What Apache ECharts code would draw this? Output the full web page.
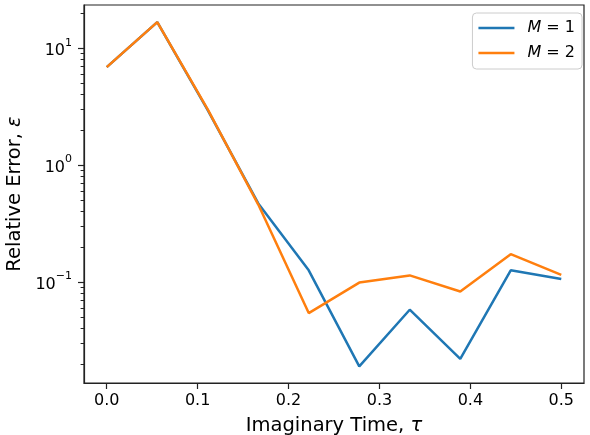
<!DOCTYPE html>
<html>
<head>
<meta charset="utf-8">
<script src="https://cdn.jsdelivr.net/npm/echarts@6/dist/echarts.min.js"></script>
<style>html,body{margin:0;padding:0;background:#fff;}#c{width:590px;height:435px;}</style>
</head>
<body>
<div id="c"></div>
<script>
// Data
var tau = [0, 0.0556, 0.1111, 0.1667, 0.2222, 0.2778, 0.3333, 0.3889, 0.4444, 0.5];
var errM1 = [6.88, 16.7, 2.95, 0.47, 0.126, 0.019, 0.058, 0.022, 0.126, 0.106];
var errM2 = [6.88, 16.7, 3.0, 0.46, 0.0543, 0.099, 0.114, 0.083, 0.173, 0.115];
var xTicks = [0, 0.1, 0.2, 0.3, 0.4, 0.5];
var yMajorTicks = [0.1, 1, 10];
var yMinorTicks = [0.02, 0.03, 0.04, 0.05, 0.06, 0.07, 0.08, 0.09,
                   0.2, 0.3, 0.4, 0.5, 0.6, 0.7, 0.8, 0.9,
                   2, 3, 4, 5, 6, 7, 8, 9, 20];
var seriesNames = ['M1', 'M2'];
var legendLabels = {M1: '{i|M} = 1', M2: '{i|M} = 2'};

function pairs(xs, ys) { return xs.map(function (x, i) { return [x, ys[i]]; }); }

var font = 'DejaVu Sans';
var chart = echarts.init(document.getElementById('c'), null, {renderer: 'canvas'});
var axisLineStyle = {color: '#222', width: 1.2};

chart.setOption({
  animation: false,
  backgroundColor: '#fff',
  grid: {left: 84, top: 5, right: 6, bottom: 52, show: true, containLabel: false,
         outerBoundsMode: 'none',
         borderColor: '#222', borderWidth: 1.2, backgroundColor: 'transparent'},
  legend: {
    data: seriesNames,
    orient: 'vertical',
    right: 8, top: 13,
    icon: 'rect',
    itemWidth: 36, itemHeight: 2.5, itemGap: 7,
    padding: [6, 7, 7, 6],
    backgroundColor: 'rgba(255,255,255,0.8)',
    borderColor: '#cccccc', borderWidth: 1, borderRadius: 4,
    formatter: function (n) { return legendLabels[n]; },
    textStyle: {
      fontFamily: font, fontSize: 16, color: '#000', padding: [0, 0, 0, 8], lineHeight: 18,
      rich: {i: {fontFamily: font, fontSize: 16, fontStyle: 'italic', color: '#000', lineHeight: 18}}
    }
  },
  xAxis: {
    type: 'value', min: -0.025, max: 0.525,
    name: 'Imaginary Time, {i|τ}',
    nameLocation: 'middle', nameGap: 33,
    nameTextStyle: {fontFamily: font, fontSize: 19.5, color: '#000',
      rich: {i: {fontFamily: font, fontSize: 19.5, fontStyle: 'italic', color: '#000'}}},
    axisLine: {show: true, onZero: false, lineStyle: axisLineStyle},
    axisTick: {show: true, length: 6, lineStyle: {color: '#222', width: 1.2}, customValues: xTicks},
    axisLabel: {show: true, customValues: xTicks, margin: 10, fontFamily: font, fontSize: 16, color: '#000',
      formatter: function (v) { return v.toFixed(1); }},
    splitLine: {show: false}
  },
  yAxis: [{
    type: 'log', logBase: 10, min: 0.0137, max: 23.4,
    name: 'Relative Error, {i|ε}',
    nameLocation: 'middle', nameGap: 55,
    nameTextStyle: {fontFamily: font, fontSize: 19.5, color: '#000',
      rich: {i: {fontFamily: font, fontSize: 19.5, fontStyle: 'italic', color: '#000'}}},
    axisLine: {show: true, onZero: false, lineStyle: axisLineStyle},
    axisTick: {show: true, length: 6, lineStyle: {color: '#222', width: 1.2}, customValues: yMajorTicks},
    axisLabel: {show: true, customValues: yMajorTicks, margin: 12, fontFamily: font, fontSize: 16, color: '#000',
      formatter: function (v) {
        var e = Math.round(Math.log10(v));
        return '{b|10}{s|' + (e < 0 ? '\u2212' + (-e) : e) + '}';
      },
      rich: {
        b: {fontFamily: font, fontSize: 16, color: '#000', lineHeight: 22, verticalAlign: 'bottom'},
        s: {fontFamily: font, fontSize: 11, color: '#000', lineHeight: 22, verticalAlign: 'top'}
      }},
    splitLine: {show: false}
  }, {
    type: 'log', logBase: 10, min: 0.0137, max: 23.4, position: 'left',
    axisLine: {show: false, onZero: false},
    axisTick: {show: true, length: 3.4, lineStyle: {color: '#222', width: 1}, customValues: yMinorTicks},
    axisLabel: {show: false},
    splitLine: {show: false}
  }],
  series: [{
    name: 'M1', type: 'line', data: pairs(tau, errM1), symbol: 'none',
    lineStyle: {color: '#1f77b4', width: 2.5}, itemStyle: {color: '#1f77b4'}
  }, {
    name: 'M2', type: 'line', data: pairs(tau, errM2), symbol: 'none',
    lineStyle: {color: '#ff7f0e', width: 2.5}, itemStyle: {color: '#ff7f0e'}
  }]
});
</script>
</body>
</html>
